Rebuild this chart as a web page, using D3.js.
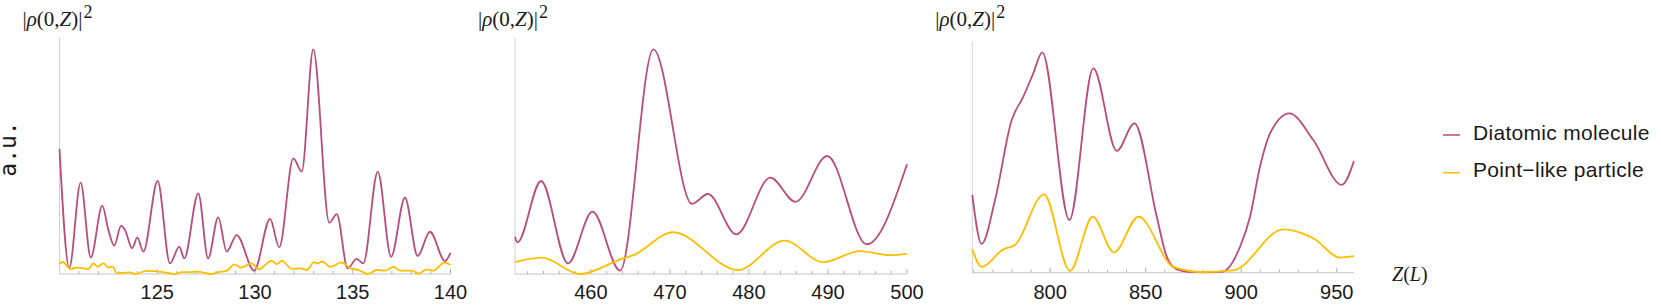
<!DOCTYPE html>
<html>
<head>
<meta charset="utf-8">
<script src="https://cdn.jsdelivr.net/npm/d3@7"></script>
<style>
  body { margin: 0; background: #fff; }
  svg { display: block; }
</style>
</head>
<body>
<div id="chart"></div>
<script>
// Panel 1 (Z from 120 to 140)
const p1DiaZ = [120, 120.5, 121.08, 121.6, 122.19, 122.5, 122.8, 123.15, 123.35, 123.72, 123.98, 124.29, 125.02, 125.65, 126.13, 126.38, 127.1, 127.6, 128.12, 128.55, 129.06, 129.96, 130.77, 131.24, 131.96, 132.39, 132.98, 133.8, 134.18, 134.74, 135.2, 135.54, 136.28, 136.96, 137.67, 138.32, 138.95, 139.72, 140];
const p1DiaV = [53, 2.5, 38.7, 7, 29, 18.6, 12, 20.5, 18.6, 10.9, 15.5, 9.5, 39.4, 4.5, 11.6, 6.6, 34.2, 6.6, 24, 9.5, 16.5, 1.4, 23.3, 11.3, 49, 43.4, 95.2, 21.7, 25.4, 2.4, 6.4, 4.5, 43.4, 7.3, 32.3, 7.6, 17.9, 5.5, 9];
const p1PtZ = [120, 120.16, 120.57, 120.88, 121.2, 121.47, 121.73, 121.95, 122.24, 122.5, 122.72, 122.93, 123.6, 123.86, 124.46, 125.3, 125.86, 126.25, 126.7, 127.02, 127.78, 128.12, 128.55, 128.94, 129.28, 129.83, 130.17, 130.85, 131.11, 131.37, 131.88, 132.3, 132.65, 133.02, 133.2, 133.44, 133.84, 134.43, 134.86, 135.29, 135.76, 136.22, 136.65, 137.1, 137.42, 138.01, 138.39, 138.78, 139.12, 139.68, 140];
const p1PtV = [4.2, 5.2, 2, 2.7, 2.5, 2, 4.5, 3.1, 4.5, 2.8, 3.1, 0.3, 0.7, 0, 1.3, 0.8, 0, 0.8, 0.8, 1, 0, 0.8, 1.3, 4.1, 2.7, 4.5, 2, 5.6, 4.2, 5.6, 2.2, 2.4, 1.7, 5, 4.5, 5.3, 3, 4.9, 2.5, 1.7, 0, 1.7, 1.4, 3, 1.4, 1.4, 0.2, 2, 1.4, 4.8, 3.8];
const p1Ticks = [125, 130, 135, 140];

// Panel 2 (Z from about 450 to 500)
const p2DiaZ = [450.4, 450.7, 453.7, 457.1, 460.2, 463.7, 467.9, 472.8, 474.8, 478.4, 482.7, 485.9, 489.9, 494.9, 500];
const p2DiaV = [15.8, 13.4, 39.4, 4.5, 26.4, 1.4, 95.2, 29.7, 33.9, 16.8, 40.8, 30.6, 50, 12.6, 46.5];
const p2PtZ = [450.4, 453.8, 458.6, 463.9, 465.4, 470.4, 478.6, 484.5, 489.4, 494, 497.8, 500];
const p2PtV = [5, 6.9, 0, 6.4, 8, 17.7, 1.7, 14.1, 5, 9.7, 8, 8.5];
const p2Ticks = [460, 470, 480, 490, 500];

// Panel 3 (Z from about 760 to 959)
const p3DiaZ = [759.3, 764.2, 771.2, 779.9, 786, 791.2, 795.9, 810.1, 822.6, 834.9, 844.1, 855.8, 861, 866.3, 872, 880, 890, 899.4, 904.6, 909.8, 915.1, 925.2, 937.7, 952.6, 959];
const p3DiaV = [33, 12.2, 30.8, 64.7, 74.6, 84.5, 93.4, 22.3, 86.6, 51.6, 63.3, 23.7, 6.8, 1.4, 0.4, 0.2, 0.4, 11, 23.7, 44.9, 59, 67.5, 56.2, 37.2, 47.3];
const p3PtZ = [759.3, 764.2, 775.5, 781.6, 796.8, 810.4, 822.3, 833.4, 846.2, 864.5, 880, 895.9, 922, 937.7, 951.7, 959];
const p3PtV = [9.9, 2.5, 9.9, 11.7, 33.2, 0.8, 23.7, 8.6, 23.7, 2.5, 0.3, 1, 18.4, 14.6, 6.4, 7];
const p3Ticks = [800, 850, 900, 950];

const seriesNames = ["Diatomic molecule", "Point\u2212like particle"];
const seriesColors = ["#b94c7e", "#ffbe00"];

const width = 1661, height = 306;

const panels = [
  {domain: [120, 140], range: [59.5, 450.5], base: 274, top: 38, ticks: p1Ticks, minor: 1,
   dia: d3.zip(p1DiaZ, p1DiaV), pt: d3.zip(p1PtZ, p1PtV)},
  {domain: [450.4, 500], range: [515, 907], base: 274, top: 38, ticks: p2Ticks, minor: 2,
   dia: d3.zip(p2DiaZ, p2DiaV), pt: d3.zip(p2PtZ, p2PtV)},
  {domain: [759.3, 959], range: [972.3, 1354], base: 272.7, top: 41.7, ticks: p3Ticks, minor: 10,
   dia: d3.zip(p3DiaZ, p3DiaV), pt: d3.zip(p3PtZ, p3PtV)}
];

const svg = d3.select('#chart').append('svg')
  .attr('width', width)
  .attr('height', height);

panels.forEach(p => {
  const x = d3.scaleLinear().domain(p.domain).range(p.range);
  const y = d3.scaleLinear().domain([0, 100]).range([p.base, p.base - 236]);
  const g = svg.append('g');

  // minor ticks
  const minorTicks = d3.range(Math.ceil(p.domain[0] / p.minor) * p.minor, p.domain[1] + 0.001, p.minor);
  g.selectAll('line.minor').data(minorTicks).enter().append('line')
    .attr('x1', d => x(d)).attr('x2', d => x(d))
    .attr('y1', p.base).attr('y2', d => p.ticks.includes(d) ? p.base - 5 : p.base - 3)
    .attr('stroke', '#b0b0b0').attr('stroke-width', 1);

  // axes lines
  g.append('line')
    .attr('x1', p.range[0]).attr('x2', p.range[1])
    .attr('y1', p.base).attr('y2', p.base)
    .attr('stroke', '#c4c4c4').attr('stroke-width', 1);
  g.append('line')
    .attr('x1', p.range[0]).attr('x2', p.range[0])
    .attr('y1', p.base).attr('y2', p.top)
    .attr('stroke', '#d0d0d0').attr('stroke-width', 1);

  // tick labels
  g.selectAll('text.tick').data(p.ticks).enter().append('text')
    .attr('x', d => x(d)).attr('y', 299)
    .attr('text-anchor', 'middle')
    .style('font-family', '"Liberation Sans", Arial, sans-serif')
    .style('font-size', '20px')
    .attr('fill', '#1a1a1a')
    .text(d => d);

  const line = d3.line()
    .x(d => x(d[0]))
    .y(d => y(d[1]))
    .curve(d3.curveMonotoneX);

  g.append('path').datum(p.dia)
    .attr('d', line).attr('fill', 'none')
    .attr('stroke', seriesColors[0]).attr('stroke-width', 1.8);
  g.append('path').datum(p.pt)
    .attr('d', line).attr('fill', 'none')
    .attr('stroke', seriesColors[1]).attr('stroke-width', 1.8);

  // y label |rho(0,Z)|^2
  const lab = g.append('text')
    .attr('x', p.range[0] - 37).attr('y', 26)
    .style('font-family', '"Liberation Serif", "Times New Roman", serif')
    .style('font-size', '21px')
    .attr('fill', '#1a1a1a');
  lab.append('tspan').text('|');
  lab.append('tspan').style('font-style', 'italic').text('\u03C1');
  lab.append('tspan').text('(0,');
  lab.append('tspan').style('font-style', 'italic').text('Z');
  lab.append('tspan').text(')|');
  lab.append('tspan').attr('dy', -8).attr('dx', 1).style('font-size', '18px').text('2');
});

// a.u. label
svg.append('text')
  .attr('transform', 'translate(15.5,149) rotate(-90)')
  .attr('text-anchor', 'middle')
  .style('font-family', '"DejaVu Sans Mono", monospace')
  .style('font-size', '23px')
  .attr('fill', '#1a1a1a')
  .text('a.u.');

// Z(L) label
const zl = svg.append('text')
  .attr('x', 1392).attr('y', 281)
  .style('font-family', '"Liberation Serif", "Times New Roman", serif')
  .style('font-size', '20px')
  .attr('fill', '#1a1a1a');
zl.append('tspan').style('font-style', 'italic').text('Z');
zl.append('tspan').text('(');
zl.append('tspan').style('font-style', 'italic').text('L');
zl.append('tspan').text(')');

// legend
const legend = svg.append('g');
seriesNames.forEach((name, i) => {
  const ly = 135 + i * 37.7;
  legend.append('line')
    .attr('x1', 1443).attr('x2', 1460)
    .attr('y1', ly).attr('y2', ly)
    .attr('stroke', seriesColors[i]).attr('stroke-width', 1.5);
  legend.append('text')
    .attr('x', 1473).attr('y', ly + 4.5)
    .style('font-family', '"Liberation Sans", Arial, sans-serif')
    .style('font-size', '21px')
    .style('letter-spacing', '0.3px')
    .attr('fill', '#1a1a1a')
    .text(name);
});
</script>
</body>
</html>
